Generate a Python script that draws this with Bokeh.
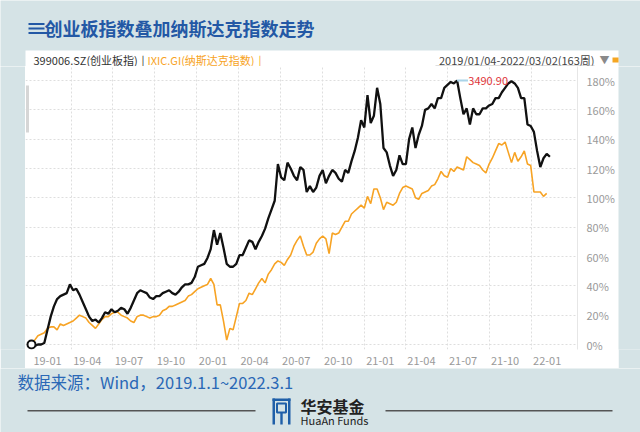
import datetime as dt
from bokeh.plotting import figure
from bokeh.layouts import column, row
from bokeh.models import Range1d, FixedTicker, PrintfTickFormatter, Label
from bokeh.core.properties import value
from bokeh.embed import file_html
from bokeh.resources import INLINE

# ---------------- data ----------------
start_date = dt.date(2019, 1, 4)
title_text = "创业板指数叠加纳斯达克指数走势"
series1_name = "399006.SZ(创业板指)"
series2_name = "IXIC.GI(纳斯达克指数)"
period_text = "2019/01/04-2022/03/02(163周)"
source_text = "数据来源：Wind，2019.1.1~2022.3.1"
peak_text = "3490.90"

# weekly % change since 2019-01-04 (创业板指)
chinext = [
    0, -1, 0, 0, 1, 10, 19, 26, 31, 33,
    34, 35, 41, 37, 38, 34, 29, 24, 19, 16,
    17, 15, 18, 22, 21, 24, 22, 23, 25, 24,
    21, 25, 30, 35, 37, 36, 35, 32, 31, 33,
    33, 35, 36, 37, 35, 34, 36, 39, 41, 41,
    42, 46, 53, 54, 55, 59, 65, 78, 68, 76,
    66, 55, 53, 53, 55, 61, 61, 66, 71, 70,
    65, 70, 74, 79, 86, 92, 98, 123, 114, 112,
    124, 120, 115, 112, 121, 119, 104, 108, 104, 107,
    115, 119, 110, 115, 119, 117, 113, 111, 119, 117,
    125, 132, 141, 153, 148, 170, 151, 156, 175, 164,
    134, 131, 122, 115, 119, 129, 123, 123, 140, 148,
    134, 143, 149, 160, 161, 164, 161, 168, 168, 175,
    177, 179, 178, 180, 168, 157, 161, 150, 161, 157,
    157, 161, 161, 163, 164, 168, 168, 172, 175, 178,
    179.5, 178, 175, 168, 168, 150, 149, 145, 132, 121,
    127, 130, 128,
]

# weekly % change since 2019-01-04 (纳斯达克指数)
nasdaq = [
    0, 3, 6, 7, 8, 11, 12, 12, 10, 14,
    13, 14, 15, 16, 18, 20, 19, 18, 15, 13,
    11, 14, 17, 19, 19, 21, 22, 22, 20, 19,
    18, 16, 15, 19, 20, 20, 19, 18, 19, 19,
    20, 23, 24, 26, 26, 27, 28, 29, 30, 33,
    34, 36, 38, 39, 40, 41, 45, 41, 27, 27,
    16, 3, 11, 10, 19, 28, 28, 30, 35, 34,
    38, 42, 45, 42, 48, 51, 55, 57, 56, 54,
    58, 61, 67, 71, 74, 67, 61, 61, 63, 69,
    72, 74, 72, 62, 76, 75, 76, 80, 84, 84,
    89, 91, 93, 95, 93, 101, 96, 106, 106, 100,
    92, 97, 96, 95, 97, 103, 107, 108, 107, 106,
    100, 99, 103, 104, 105, 108, 109, 113, 118, 115,
    114, 120, 118, 121, 120, 119, 128, 126, 124, 123,
    122, 119, 117, 123, 127, 132, 137, 136, 138, 131,
    124, 131, 125, 128, 132, 123, 122, 104, 104, 104,
    101, 103,
]

tick_labels = ["19-01", "19-04", "19-07", "19-10", "20-01", "20-04", "20-07",
               "20-10", "21-01", "21-04", "21-07", "21-10", "22-01"]
tick_dates = [dt.date(2019, 1, 4), dt.date(2019, 4, 1), dt.date(2019, 7, 1),
              dt.date(2019, 10, 1), dt.date(2020, 1, 1), dt.date(2020, 4, 1),
              dt.date(2020, 7, 1), dt.date(2020, 10, 1), dt.date(2021, 1, 1),
              dt.date(2021, 4, 1), dt.date(2021, 7, 1), dt.date(2021, 10, 1),
              dt.date(2022, 1, 1)]
y_ticks = [0, 20, 40, 60, 80, 100, 120, 140, 160, 180]

# ---------------- styling ----------------
FONT = "Noto Sans CJK SC"
BG = "#d5e3e6"
BLACK = "#111111"
ORANGE = "#f7a324"
BLUE = "#2358a5"
W, H = 640, 432
PANEL_L, PANEL_R, PANEL_T, PANEL_B = 25, 618, 50, 368
FL, FR, FT, FB = 25, 577, 66, 349       # plot frame edges (page px)
PX_PER_WEEK = 3.2
X0_PX = 31
Y0_PX, PX_PER_PCT = 344, 264 / 180.0


def deco_fig(x0, x1, y0, y1, fill):
    """Decoration figure whose data coordinates are page pixels."""
    f = figure(width=x1 - x0, height=y1 - y0, output_backend="svg",
               toolbar_location=None, x_range=Range1d(x0, x1),
               y_range=Range1d(y1, y0), x_axis_location=None,
               y_axis_location=None, min_border=0,
               border_fill_color=fill, background_fill_color=fill,
               outline_line_color=None)
    f.grid.visible = False
    return f


def txt(f, x, y, text, size, color, bold=False, align="left", **kw):
    f.text(x=[x], y=[y], text=[text], text_font=value(FONT),
           text_font_size=size, text_color=color,
           text_font_style="bold" if bold else "normal",
           text_align=align, text_baseline="middle", **kw)


def rect(f, l, r, t, b, color=None, line=None, lw=1, **kw):
    f.quad(left=[l], right=[r], top=[t], bottom=[b], fill_color=color,
           line_color=line, line_width=lw, **kw)


# ---- title strip + panel header ----
ft = deco_fig(0, W, 0, FT, BG)
rect(ft, 28, 44, 22.5, 24.5, BLUE)
rect(ft, 28, 44, 27, 29, BLUE)
rect(ft, 28, 50, 31.5, 33.5, BLUE)
txt(ft, 44, 27, title_text, "18px", BLUE, bold=True)
rect(ft, PANEL_L, PANEL_R, PANEL_T, FT + 1, "white")
rect(ft, 576.5, 577.5, 53, FT + 1, "#e6e6e6")
txt(ft, 33, 59, series1_name, "11px", "#333333")
txt(ft, 141, 59, "|", "11px", "#333333")
txt(ft, 147, 59, series2_name, "11px", ORANGE)
txt(ft, 258, 59, "|", "11px", ORANGE)
rect(ft, 435, 594, 51, 66, "white")
txt(ft, 594, 59, period_text, "11px", "#444444", align="right")
rect(ft, 435, 594, 65, 66, "#bdbdbd")
txt(ft, 599, 59, "▼", "10px", "#8a8a8a")
rect(ft, 612, 618, 57, 62, "#f5a623")

# ---- side strips ----
fl = deco_fig(0, PANEL_L, FT, PANEL_B, BG)
fr = deco_fig(PANEL_R, W, FT, PANEL_B, BG)

# ---- main chart ----
x_start = (FL - X0_PX) / PX_PER_WEEK
x_end = (FR - X0_PX) / PX_PER_WEEK
y_start = -(FB - Y0_PX) / PX_PER_PCT
y_end = (Y0_PX - FT) / PX_PER_PCT

p = figure(width=PANEL_R - PANEL_L, height=PANEL_B - FT,
           output_backend="svg", toolbar_location=None,
           x_range=Range1d(x_start, x_end), y_range=Range1d(y_start, y_end),
           y_axis_location="right",
           min_border_left=0, min_border_right=PANEL_R - FR,
           min_border_top=0, min_border_bottom=PANEL_B - FB,
           border_fill_color="white", background_fill_color="white",
           outline_line_color=None)
p.extra_x_ranges = {"px": Range1d(FL, FR)}
p.extra_y_ranges = {"px": Range1d(FB, FT)}


def week_of(d):
    return (d - start_date).days / 7.0


grid_pos = [round(week_of(d), 3) for d in tick_dates[1:]]
label_off = 16 / PX_PER_WEEK
label_pos = [round(week_of(d) + label_off, 3) for d in tick_dates]

xa = p.xaxis[0]
xa.ticker = FixedTicker(ticks=label_pos)
xa.major_label_overrides = {k: v for k, v in zip(label_pos, tick_labels)}
xa.axis_line_color = None
xa.major_tick_line_color = None
xa.minor_tick_line_color = None
xa.major_label_standoff = 1
xa.major_label_text_color = "#9a9a9a"
xa.major_label_text_font = FONT
xa.major_label_text_font_size = "11px"

ya = p.yaxis[0]
ya.ticker = FixedTicker(ticks=y_ticks)
ya.formatter = PrintfTickFormatter(format="%d%%")
ya.axis_line_color = "#e6e6e6"
ya.major_tick_line_color = None
ya.minor_tick_line_color = None
ya.major_label_standoff = 3
ya.major_label_text_color = "#9a9a9a"
ya.major_label_text_font = FONT
ya.major_label_text_font_size = "11px"

p.xgrid.ticker = FixedTicker(ticks=grid_pos)
p.ygrid.ticker = FixedTicker(ticks=y_ticks)
for g in (p.xgrid[0], p.ygrid[0]):
    g.grid_line_color = "#dedede"
    g.grid_line_dash = "2 2"
    g.grid_line_width = 1

PX = dict(x_range_name="px", y_range_name="px")
# small grey handle at the left edge
rect(p, 25.5, 28.5, 85, 132, "#d6d6d6", **PX)

xs1 = list(range(len(chinext)))
xs2 = list(range(len(nasdaq)))
p.line(xs2, nasdaq, line_color=ORANGE, line_width=1.6)
p.line(xs1, chinext, line_color=BLACK, line_width=2.3)
p.scatter([xs1[0]], [chinext[0]], marker="circle", size=8,
          fill_color="white", line_color=BLACK, line_width=2)

pk = max(range(len(chinext)), key=lambda i: chinext[i])
p.segment(x0=[pk], y0=[chinext[pk]], x1=[pk + 3.4], y1=[chinext[pk]],
          line_color="#a9d3e8", line_width=2)
p.add_layout(Label(x=pk + 3.5, y=chinext[pk], text=peak_text,
                   text_font=FONT, text_font_size="11px", text_color="#e0353a",
                   text_baseline="middle", text_align="left"))

# ---- footer ----
ff = deco_fig(0, W, PANEL_B, H, BG)
txt(ff, 17, 381, source_text, "16.5px", "#2a68b6")
rect(ff, 27, 255, 409.5, 411, "#555555")
rect(ff, 385, 612, 409.5, 411, "#555555")
rect(ff, 272, 290, 398, 400.5, "#1f5fa8")
rect(ff, 272, 274.5, 398, 424, "#1f5fa8")
rect(ff, 287.5, 290, 398, 424, "#1f5fa8")
rect(ff, 276.5, 285.5, 403, 412, None, line="#1f5fa8", lw=2)
rect(ff, 279.8, 282.2, 412, 424, "#1f5fa8")
txt(ff, 300, 405, "华安基金", "16px", "#222222", bold=True)
txt(ff, 300, 419, "HuaAn Funds", "11px", "#222222")

layout = column(ft, row(fl, p, fr), ff)
open("out.html", "w").write(file_html(layout, INLINE))
